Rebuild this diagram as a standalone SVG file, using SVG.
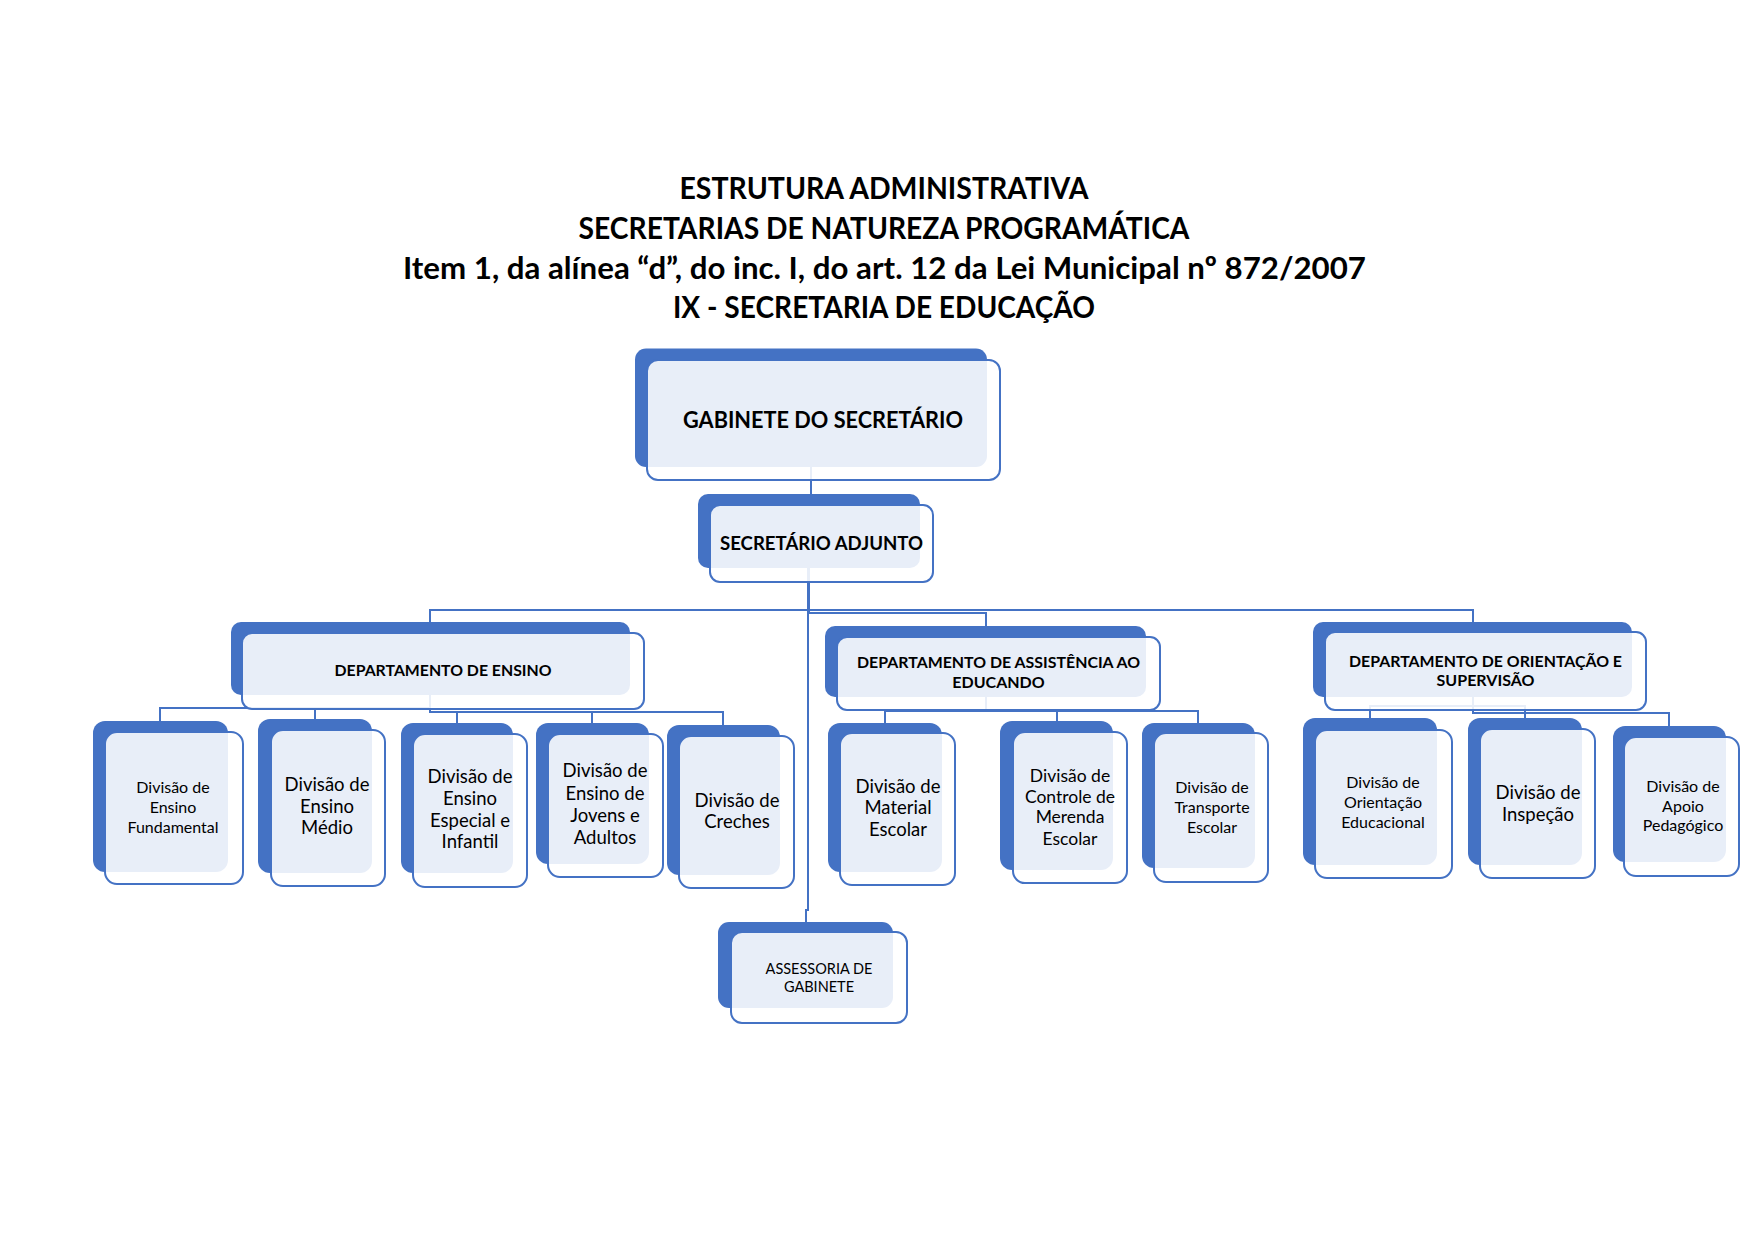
<svg xmlns="http://www.w3.org/2000/svg" width="1755" height="1241" viewBox="0 0 1755 1241">
<style>
.bk{fill:#4472C4;}
.fr{fill:#FFFFFF;fill-opacity:0.88;stroke:#4472C4;stroke-width:2;}
.cn{fill:none;stroke:#4472C4;stroke-width:2;}
.t{font-family:Lato,"Open Sans","Liberation Sans",sans-serif;fill:#000;text-anchor:middle;}
.b{font-weight:bold;}
.title{font-family:Lato,"Open Sans","Liberation Sans",sans-serif;font-weight:bold;font-size:31px;fill:#000;text-anchor:middle;}
.s19{font-size:18.5px;}
.s17{font-size:16px;}
</style>
<rect width="1755" height="1241" fill="#FFFFFF"/>
<g id="title">
<text class="title" x="884" y="199" textLength="409" lengthAdjust="spacingAndGlyphs">ESTRUTURA ADMINISTRATIVA</text>
<text class="title" x="884" y="238.5" textLength="611" lengthAdjust="spacingAndGlyphs">SECRETARIAS DE NATUREZA PROGRAMÁTICA</text>
<text class="title" x="884.5" y="278.5" textLength="963" lengthAdjust="spacingAndGlyphs">Item 1, da alínea “d”, do inc. I, do art. 12 da Lei Municipal nº  872/2007</text>
<text class="title" x="884" y="318" textLength="422" lengthAdjust="spacingAndGlyphs">IX - SECRETARIA DE EDUCAÇÃO</text>
</g>
<g id="connectors">
<path class="cn" d="M811,467 V494"/>
<path class="cn" d="M809,568 V610 H430 V622"/>
<path class="cn" d="M809,610 V613 H986 V626"/>
<path class="cn" d="M809,610 H1473 V622"/>
<path class="cn" d="M808,568 V910 H806 V922"/>
<path class="cn" d="M430,695 V708 H160 V721"/>
<path class="cn" d="M430,708 H315 V719"/>
<path class="cn" d="M430,695 V712 H457 V723"/>
<path class="cn" d="M457,712 H592 V723"/>
<path class="cn" d="M592,712 H723 V725"/>
<path class="cn" d="M986,697 V711 H885 V723"/>
<path class="cn" d="M986,711 H1057 V721"/>
<path class="cn" d="M1057,711 H1198 V723"/>
<path class="cn" d="M1473,697 V706 H1370 V718"/>
<path class="cn" d="M1473,706 H1525 V718"/>
<path class="cn" d="M1473,697 V713 H1669 V726"/>
</g>
<g id="gabinete">
<rect class="bk" x="635" y="348.5" width="352" height="118.5" rx="11"/>
<rect class="fr" x="647" y="360" width="353" height="120" rx="11"/>
<text class="t b" x="823" y="428" font-size="23" textLength="280" lengthAdjust="spacingAndGlyphs">GABINETE DO SECRETÁRIO</text>
</g>
<g id="adjunto">
<rect class="bk" x="698" y="494" width="222" height="74" rx="10"/>
<rect class="fr" x="710" y="505" width="223" height="77" rx="10"/>
<text class="t b" x="821.5" y="550" font-size="19" textLength="203" lengthAdjust="spacingAndGlyphs">SECRETÁRIO ADJUNTO</text>
</g>
<g id="dept-ensino">
<rect class="bk" x="231" y="622" width="399" height="73" rx="10"/>
<rect class="fr" x="242" y="633" width="402" height="76" rx="10"/>
<text class="t b" x="443" y="676" font-size="16" textLength="217" lengthAdjust="spacingAndGlyphs">DEPARTAMENTO DE ENSINO</text>
</g>
<g id="dept-assistencia">
<rect class="bk" x="825" y="626" width="321" height="71" rx="10"/>
<rect class="fr" x="837" y="637" width="323" height="73" rx="10"/>
<text class="t b" x="998.5" y="668" font-size="16" textLength="283" lengthAdjust="spacingAndGlyphs">DEPARTAMENTO DE ASSISTÊNCIA AO</text>
<text class="t b" x="998.5" y="688" font-size="16">EDUCANDO</text>
</g>
<g id="dept-orientacao">
<rect class="bk" x="1313" y="622" width="319" height="75" rx="10"/>
<rect class="fr" x="1325" y="632" width="321" height="78" rx="10"/>
<text class="t b" x="1485.5" y="667" font-size="16" textLength="273" lengthAdjust="spacingAndGlyphs">DEPARTAMENTO DE ORIENTAÇÃO E</text>
<text class="t b" x="1485.5" y="686" font-size="16">SUPERVISÃO</text>
</g>
<g id="div-fundamental">
<rect class="bk" x="93" y="721" width="135" height="151" rx="12"/>
<rect class="fr" x="105" y="732" width="138" height="152" rx="12"/>
<text class="t s17" x="173" y="793">Divisão de</text>
<text class="t s17" x="173" y="813">Ensino</text>
<text class="t s17" x="173" y="833">Fundamental</text>
</g>
<g id="div-medio">
<rect class="bk" x="258" y="719" width="114" height="154" rx="12"/>
<rect class="fr" x="271" y="730" width="114" height="156" rx="12"/>
<text class="t s19" x="327" y="791">Divisão de</text>
<text class="t s19" x="327" y="813">Ensino</text>
<text class="t s19" x="327" y="834">Médio</text>
</g>
<g id="div-especial">
<rect class="bk" x="401" y="723" width="112" height="150" rx="12"/>
<rect class="fr" x="413" y="734" width="114" height="153" rx="12"/>
<text class="t s19" x="470" y="783">Divisão de</text>
<text class="t s19" x="470" y="805">Ensino</text>
<text class="t s19" x="470" y="827">Especial e</text>
<text class="t s19" x="470" y="848">Infantil</text>
</g>
<g id="div-jovens">
<rect class="bk" x="536" y="723" width="113" height="141" rx="12"/>
<rect class="fr" x="548" y="734" width="115" height="143" rx="12"/>
<text class="t s19" x="605" y="777">Divisão de</text>
<text class="t s19" x="605" y="800">Ensino de</text>
<text class="t s19" x="605" y="822">Jovens e</text>
<text class="t s19" x="605" y="844">Adultos</text>
</g>
<g id="div-creches">
<rect class="bk" x="667" y="725" width="113" height="150" rx="12"/>
<rect class="fr" x="679" y="736" width="115" height="152" rx="12"/>
<text class="t s19" x="737" y="807">Divisão de</text>
<text class="t s19" x="737" y="828">Creches</text>
</g>
<g id="div-material">
<rect class="bk" x="828" y="723" width="114" height="149" rx="12"/>
<rect class="fr" x="840" y="733" width="115" height="152" rx="12"/>
<text class="t s19" x="898" y="793">Divisão de</text>
<text class="t s19" x="898" y="814">Material</text>
<text class="t s19" x="898" y="836">Escolar</text>
</g>
<g id="div-merenda">
<rect class="bk" x="1000" y="721" width="113" height="149" rx="12"/>
<rect class="fr" x="1013" y="732" width="114" height="151" rx="12"/>
<text class="t" x="1070" y="782" font-size="17.5">Divisão de</text>
<text class="t" x="1070" y="803" font-size="17.5">Controle de</text>
<text class="t" x="1070" y="823" font-size="17.5">Merenda</text>
<text class="t" x="1070" y="845" font-size="17.5">Escolar</text>
</g>
<g id="div-transporte">
<rect class="bk" x="1142" y="723" width="113" height="145" rx="12"/>
<rect class="fr" x="1154" y="733" width="114" height="149" rx="12"/>
<text class="t s17" x="1212" y="793">Divisão de</text>
<text class="t s17" x="1212" y="813">Transporte</text>
<text class="t s17" x="1212" y="833">Escolar</text>
</g>
<g id="div-orientacao">
<rect class="bk" x="1303" y="718" width="134" height="147" rx="12"/>
<rect class="fr" x="1315" y="730" width="137" height="148" rx="12"/>
<text class="t s17" x="1383" y="788">Divisão de</text>
<text class="t s17" x="1383" y="808">Orientação</text>
<text class="t s17" x="1383" y="828">Educacional</text>
</g>
<g id="div-inspecao">
<rect class="bk" x="1468" y="718" width="114" height="147" rx="12"/>
<rect class="fr" x="1480" y="729" width="115" height="149" rx="12"/>
<text class="t s19" x="1538" y="799">Divisão de</text>
<text class="t s19" x="1538" y="821">Inspeção</text>
</g>
<g id="div-apoio">
<rect class="bk" x="1613" y="726" width="113" height="136" rx="12"/>
<rect class="fr" x="1624" y="737" width="115" height="139" rx="12"/>
<text class="t s17" x="1683" y="792">Divisão de</text>
<text class="t s17" x="1683" y="812">Apoio</text>
<text class="t s17" x="1683" y="831">Pedagógico</text>
</g>
<g id="assessoria">
<rect class="bk" x="718" y="922" width="175" height="86" rx="11"/>
<rect class="fr" x="731" y="932" width="176" height="91" rx="11"/>
<text class="t" x="819" y="974" font-size="14.5">ASSESSORIA DE</text>
<text class="t" x="819" y="992" font-size="14.5">GABINETE</text>
</g>
</svg>
